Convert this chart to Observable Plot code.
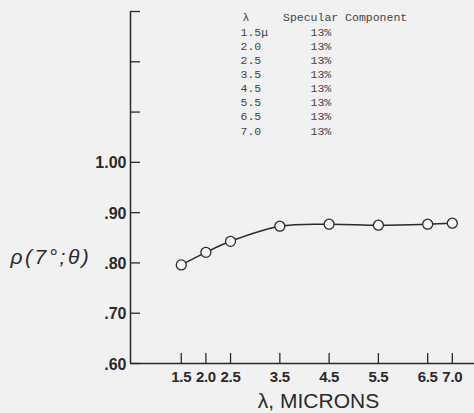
<!DOCTYPE html>
<html>
<head>
<meta charset="utf-8">
<script src="https://cdn.jsdelivr.net/npm/d3@7"></script>
<script src="https://cdn.jsdelivr.net/npm/@observablehq/plot@0.6"></script>
<style>
  html, body { margin: 0; padding: 0; background: #f1f1f1; }
  #chart { width: 474px; height: 413px; overflow: hidden; }
</style>
</head>
<body>
<div id="chart"></div>
<script>
// Data
const wavelengths = [1.5, 2.0, 2.5, 3.5, 4.5, 5.5, 6.5, 7.0];
const reflectance = [0.796, 0.821, 0.843, 0.873, 0.877, 0.875, 0.877, 0.879];
const xTickLabels = ["1.5", "2.0", "2.5", "3.5", "4.5", "5.5", "6.5", "7.0"];
const yTickValues = [0.6, 0.7, 0.8, 0.9, 1.0, 1.1, 1.2, 1.3];
const yLabelValues = [0.6, 0.7, 0.8, 0.9, 1.0];
const yLabelTexts = [".60", ".70", ".80", ".90", "1.00"];
const tableHeaderLambda = "λ";
const tableHeaderSpecular = "Specular Component";
const tableLambda = ["1.5μ", "2.0", "2.5", "3.5", "4.5", "5.5", "6.5", "7.0"];
const tableSpecular = ["13%", "13%", "13%", "13%", "13%", "13%", "13%", "13%"];
const xDomain = [0.47, 7.45];
const yDomain = [0.6, 1.3];
const xLabel = "λ, MICRONS";
const yLabel = "ρ(7°;θ)";

const points = wavelengths.map((w, i) => ({w, r: reflectance[i], label: xTickLabels[i]}));
const yLabels = yLabelValues.map((v, i) => ({v, t: yLabelTexts[i]}));

const ink = "#2a2a2a";
const W = 474, H = 413, mL = 130, mR = 0, mT = 11, mB = 50;
const frameW = W - mL - mR, frameH = H - mT - mB;

const chart = Plot.plot({
  width: W, height: H,
  marginLeft: mL, marginRight: mR, marginTop: mT, marginBottom: mB,
  style: {background: "#f1f1f1", color: ink, fontFamily: "Liberation Sans, sans-serif"},
  x: {domain: xDomain, axis: null},
  y: {domain: yDomain, axis: null},
  marks: [
    Plot.ruleX([xDomain[0]], {stroke: ink, strokeWidth: 1.5}),
    Plot.ruleY([yDomain[0]], {stroke: ink, strokeWidth: 1.5}),
    Plot.tickY(yTickValues, {y: d => d, stroke: ink, strokeWidth: 1.3, insetRight: frameW - 10}),
    Plot.tickX(wavelengths, {x: d => d, stroke: ink, strokeWidth: 1.3, insetTop: frameH - 10}),
    Plot.text(yLabels, {y: "v", text: "t", frameAnchor: "left", textAnchor: "end", dx: -4, dy: 1,
      fontSize: 16, fontWeight: "bold", fill: ink}),
    Plot.text(points, {x: "w", text: "label", frameAnchor: "bottom", lineAnchor: "top", dy: 8,
      fontSize: 15, fontWeight: "bold", fill: ink}),
    Plot.text([xLabel], {text: d => d, frameAnchor: "bottom", lineAnchor: "bottom", dx: 16, dy: 44,
      fontSize: 21, fill: ink}),
    Plot.text([yLabel], {text: d => d, frameAnchor: "left", textAnchor: "start", dx: -120, dy: 70,
      fontSize: 21, fontStyle: "italic", fill: ink}),
    Plot.line(points, {x: "w", y: "r", curve: "catmull-rom", stroke: ink, strokeWidth: 1.6}),
    Plot.dot(points, {x: "w", y: "r", r: 5, fill: "#f7f7f7", stroke: ink, strokeWidth: 1.3}),
    // table
    Plot.text([tableHeaderLambda], {text: d => d, frameAnchor: "top-left", textAnchor: "start", lineAnchor: "top",
      dx: 112, dy: 1, fontSize: 11.5, fontFamily: "Liberation Mono, monospace", fill: "#444"}),
    Plot.text([tableHeaderSpecular], {text: d => d, frameAnchor: "top-left", textAnchor: "start", lineAnchor: "top",
      dx: 152.5, dy: 1, fontSize: 11.5, fontFamily: "Liberation Mono, monospace", fill: "#444"}),
    Plot.text([tableLambda.join("\n")], {text: d => d, frameAnchor: "top-left", textAnchor: "start", lineAnchor: "top",
      dx: 110, dy: 14, lineHeight: 1.23, fontSize: 11.5, fontFamily: "Liberation Mono, monospace", fill: "#444"}),
    Plot.text([tableSpecular.join("\n")], {text: d => d, frameAnchor: "top-left", textAnchor: "start", lineAnchor: "top",
      dx: 180, dy: 14, lineHeight: 1.23, fontSize: 11.5, fontFamily: "Liberation Mono, monospace", fill: "#444"})
  ]
});
d3.select(chart).selectAll("text")
  .filter(function() { return this.textContent === yLabel; })
  .attr("letter-spacing", "2.5px");
d3.select(chart).selectAll("text")
  .filter(function() { return xTickLabels.includes(this.textContent); })
  .attr("letter-spacing", "-0.3px");
document.getElementById("chart").appendChild(chart);
</script>
</body>
</html>
